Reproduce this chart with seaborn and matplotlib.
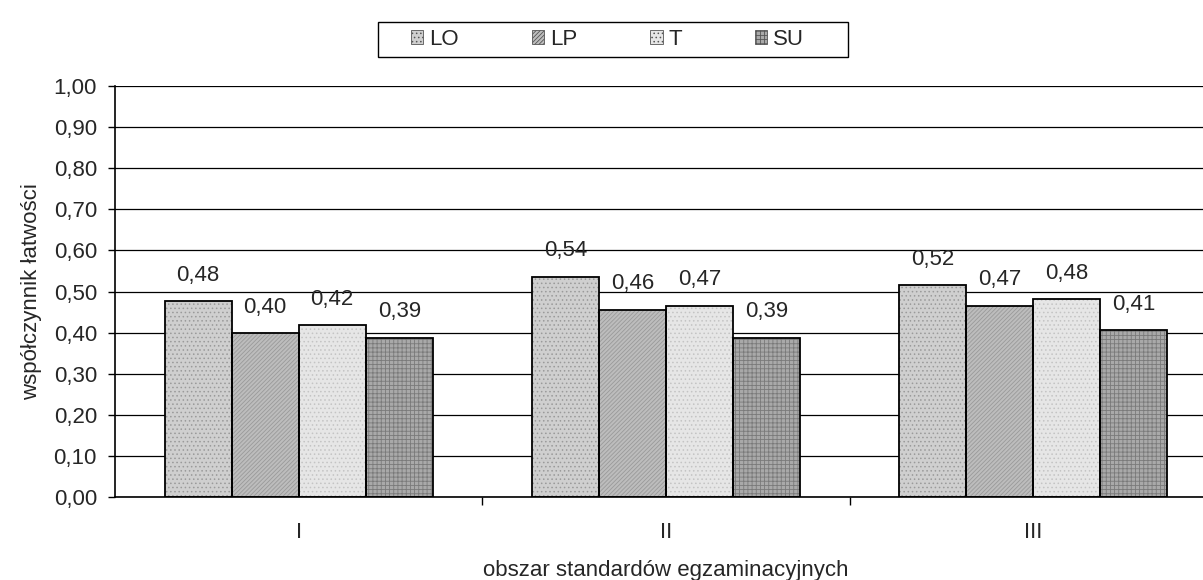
"""
Wspolczynnik latwosci wg obszaru standardow i typu szkoly
"""

import numpy as np
import matplotlib.pyplot as plt
import matplotlib.patches as mpatches
from matplotlib.ticker import FixedLocator, FuncFormatter
import pandas as pd
import seaborn as sns

obszary = ['I', 'II', 'III']
typy = ['LO', 'LP', 'T', 'SU']
wartosci = {
    'LO': [0.476, 0.536, 0.516],
    'LP': [0.398, 0.456, 0.466],
    'T': [0.418, 0.466, 0.482],
    'SU': [0.388, 0.388, 0.406],
}
kolory = {'LO': '#cfcfcf', 'LP': '#bdbdbd', 'T': '#e6e6e6', 'SU': '#a9a9a9'}
wzory = {'LO': '....', 'LP': '////////', 'T': '....', 'SU': '++++'}
kolory_wzoru = {'LO': '#9a9a9a', 'LP': '#9a9a9a', 'T': '#c4c4c4', 'SU': '#7a7a7a'}

FS = 16

rows = []
for t in typy:
    for o, v in zip(obszary, wartosci[t]):
        rows.append({'obszar': o, 'typ': t, 'wartosc': v})
df = pd.DataFrame(rows)

sns.set_style('white')
plt.rcParams['font.family'] = ['Liberation Sans', 'DejaVu Sans']
plt.rcParams['hatch.linewidth'] = 0.6

fig = plt.figure(figsize=(12.03, 5.80), dpi=100)
ax = fig.add_axes([0.0956, 0.143, 0.916, 0.7086])

sns.barplot(data=df, x='obszar', y='wartosc', hue='typ', hue_order=typy,
            order=obszary, palette=kolory, width=0.73, legend=False,
            errorbar=None, saturation=1, ax=ax)

# wzory w slupkach + czarne obramowanie
for t, cont in zip(typy, ax.containers):
    for p in cont:
        p.set_hatch(wzory[t])
        p.set_edgecolor(kolory_wzoru[t])
        p.set_linewidth(0)
        ax.add_patch(mpatches.Rectangle(p.get_xy(), p.get_width(), p.get_height(),
                                        fill=False, edgecolor='black', lw=1.3, zorder=3))
    ax.bar_label(cont, labels=[f"{v:.2f}".replace('.', ',') for v in wartosci[t]],
                 padding=11, fontsize=FS)

ax.set_ylim(0, 1.0)
ax.set_xlim(-0.5, 2.5)
ax.yaxis.set_major_locator(FixedLocator(np.arange(0, 1.01, 0.1)))
ax.yaxis.set_major_formatter(FuncFormatter(lambda v, _: f"{v:.2f}".replace('.', ',')))
ax.grid(axis='y', color='black', lw=0.9)
ax.set_axisbelow(True)

for s in ['top', 'right']:
    ax.spines[s].set_visible(False)
for s in ['left', 'bottom']:
    ax.spines[s].set_color('black')
    ax.spines[s].set_linewidth(1.2)

ax.tick_params(axis='y', which='major', direction='out', length=5, width=1,
               color='black', left=True, labelsize=FS, pad=8)
ax.tick_params(axis='x', which='major', length=0, labelsize=FS, pad=18)
ax.xaxis.set_minor_locator(FixedLocator([0.5, 1.5]))
ax.tick_params(axis='x', which='minor', direction='out', length=6, width=1,
               color='black', bottom=True)

ax.set_xlabel('obszar standardów egzaminacyjnych', fontsize=FS, labelpad=12)
ax.set_ylabel('współczynnik łatwości', fontsize=FS, labelpad=8)

# legenda bez ramki + osobna ramka (szersze marginesy jak w Excelu)
handles = [mpatches.Patch(facecolor=kolory[t], hatch=wzory[t], edgecolor='#555555', lw=0.6)
           for t in typy]
fig.legend(handles, typy, loc='center', bbox_to_anchor=(0.505, 0.932), ncol=4,
           fontsize=FS, frameon=False,
           handlelength=0.55, handleheight=0.55, handletextpad=0.25,
           columnspacing=3.3)
fig.patches.append(mpatches.Rectangle((0.3142, 0.9017), 0.3907, 0.0603,
                                      transform=fig.transFigure, fill=False,
                                      edgecolor='black', lw=1.0))

fig.savefig('out.png', dpi=100)
